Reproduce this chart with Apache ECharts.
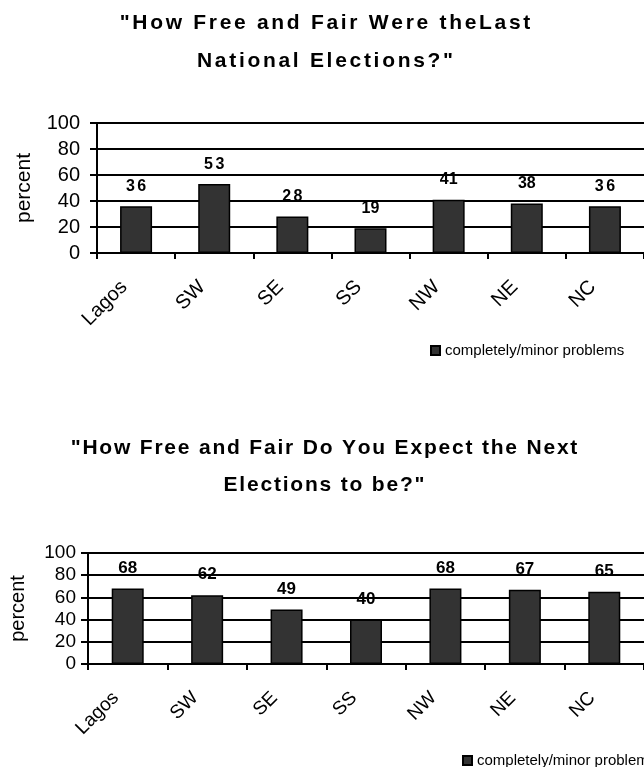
<!DOCTYPE html>
<html><head><meta charset="utf-8">
<script src="https://cdn.jsdelivr.net/npm/echarts@6/dist/echarts.min.js"></script>
<style>html,body{margin:0;padding:0;background:#fff;overflow:hidden}#c{width:644px;height:767px}</style>
</head><body><div id="c"></div>
<script>
const categories = ['Lagos', 'SW', 'SE', 'SS', 'NW', 'NE', 'NC'];
const lastElection = [36, 53, 28, 19, 41, 38, 36];
const nextElection = [68, 62, 49, 40, 68, 67, 65];
const seriesName = 'completely/minor problems';
const yAxisName = 'percent';
const titleTopLines = ['"How Free and Fair Were theLast', 'National Elections?"'];
const titleBottomLines = ['"How Free and Fair Do You Expect the Next', 'Elections to be?"'];

const FONT = '"Liberation Sans", Arial, Helvetica, sans-serif';

// extra letter spacing (px) for the spaced-out bold type of the reference
const spacing = {};
titleTopLines.forEach(t => { spacing[t] = 2.7; });
titleBottomLines.forEach(t => { spacing[t] = 1.8; });
['36', '53', '28'].forEach(t => { spacing[t] = 2.5; });
(function () {
  const P = CanvasRenderingContext2D.prototype;
  const origFill = P.fillText, origMeasure = P.measureText;
  P.fillText = function (t, x, y, w) {
    const ls = spacing[t];
    if (ls !== undefined && /bold/.test(this.font)) {
      const chars = Array.from(String(t));
      const widths = chars.map(c => origMeasure.call(this, c).width);
      const total = widths.reduce((a, b) => a + b, 0) + ls * (chars.length - 1);
      const align = this.textAlign;
      let cx = x;
      if (align === 'center') cx = x - total / 2;
      else if (align === 'right' || align === 'end') cx = x - total;
      this.textAlign = 'left';
      chars.forEach((c, i) => { origFill.call(this, c, cx, y); cx += widths[i] + ls; });
      this.textAlign = align;
      return;
    }
    return w === undefined ? origFill.call(this, t, x, y) : origFill.call(this, t, x, y, w);
  };
})();

function yAxis(gridIndex, fs, margin, nameGap) {
  return {
    type: 'value', gridIndex, min: 0, max: 100, interval: 20,
    name: yAxisName, nameLocation: 'middle', nameRotate: 90, nameGap,
    nameTextStyle: { fontFamily: FONT, fontSize: fs + 1, color: '#000' },
    axisLine: { show: true, lineStyle: { color: '#000', width: 2 } },
    axisTick: { show: true, length: 7, lineStyle: { color: '#000', width: 2 } },
    axisLabel: { fontFamily: FONT, fontSize: fs, color: '#000', margin },
    splitLine: { show: true, lineStyle: { color: '#000', width: 2 } }
  };
}
function xAxis(gridIndex, fs, margin, lh) {
  return {
    type: 'category', gridIndex, data: categories,
    axisLine: { show: true, lineStyle: { color: '#000', width: 2 } },
    axisTick: { show: true, length: 6, alignWithLabel: false, lineStyle: { color: '#000', width: 2 } },
    axisLabel: { fontFamily: FONT, fontSize: fs, color: '#000', rotate: 45, margin, interval: 0,
      lineHeight: lh, verticalAlign: 'bottom' }
  };
}
function barSeries(idx, data, fs) {
  return {
    type: 'bar', name: seriesName, xAxisIndex: idx, yAxisIndex: idx, data,
    barWidth: 32,
    itemStyle: { color: '#333333', borderColor: '#000', borderWidth: 1.5 },
    label: { show: true, position: 'top', distance: 12, fontFamily: FONT, fontWeight: 'bold', fontSize: fs, color: '#000' }
  };
}
function legend(left, top, fs) {
  return {
    left, top, data: [seriesName], icon: 'rect', itemWidth: 9, itemHeight: 9, itemGap: 6,
    selectedMode: false,
    textStyle: { fontFamily: FONT, fontSize: fs, color: '#000' }
  };
}
function titleText(lines, x, y, lh) {
  return lines.map((t, i) => ({
    type: 'text', x, y: y + i * lh,
    style: { text: t, textAlign: 'center', textVerticalAlign: 'middle', font: 'bold 21px ' + FONT, fill: '#000' }
  }));
}

const chart = echarts.init(document.getElementById('c'), null, { renderer: 'canvas' });
chart.setOption({
  animation: false,
  backgroundColor: '#fff',
  grid: [
    { left: 97, top: 123, width: 549, height: 130 },
    { left: 84, top: 553, width: 576, height: 111 }
  ],
  xAxis: [xAxis(0, 20, 43, 34), xAxis(1, 19, 43, 34)],
  yAxis: [yAxis(0, 20, 17, 62), yAxis(1, 19, 12, 60)],
  legend: [legend(425, 338, 15), legend(457, 748, 15)],
  series: [barSeries(0, lastElection, 16), barSeries(1, nextElection, 17)],
  graphic: [].concat(titleText(titleTopLines, 325, 23, 38), titleText(titleBottomLines, 324, 448, 37))
});
</script></body></html>
